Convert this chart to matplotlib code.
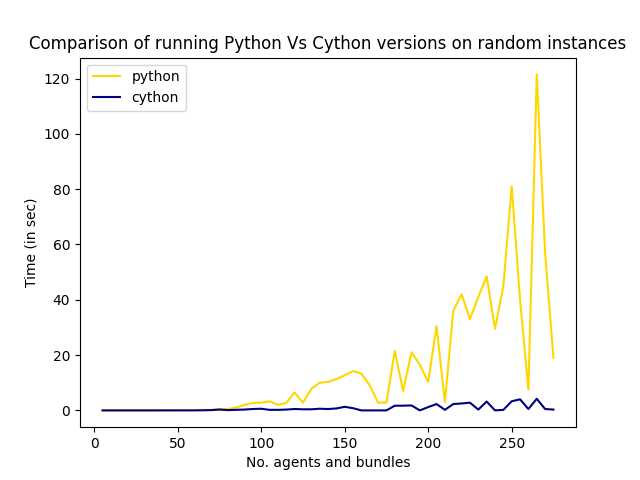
import matplotlib
matplotlib.use('Agg')
import matplotlib.pyplot as plt

agents = list(range(5, 280, 5))
python = [0.02, 0.02, 0.03, 0.03, 0.04, 0.05, 0.06, 0.07, 0.08, 0.1, 0.12, 0.15, 0.2, 0.2,
          0.5, 0.5, 1.0, 2.0, 2.7, 2.8, 3.3, 2.0, 2.7, 6.5, 2.8, 7.8, 10.0, 10.3, 11.3, 12.7,
          14.2, 13.3, 9.0, 2.8, 2.8, 21.5, 7.0, 21.0, 16.5, 10.3, 30.5, 3.0, 36.0, 42.0,
          33.0, 41.0, 48.5, 29.5, 45.0, 81.0, 40.0, 7.5, 121.5, 57.0, 19.0]
cython = [0.0, 0.0, 0.0, 0.0, 0.0, 0.0, 0.0, 0.0, 0.0, 0.0, 0.0, 0.0, 0.05, 0.1,
          0.3, 0.1, 0.2, 0.3, 0.5, 0.6, 0.2, 0.2, 0.3, 0.5, 0.4, 0.4, 0.6, 0.5, 0.7, 1.3,
          0.8, 0.0, 0.0, 0.0, 0.0, 1.7, 1.7, 1.8, 0.0, 1.2, 2.3, 0.2, 2.3, 2.5,
          2.8, 0.3, 3.2, 0.0, 0.2, 3.3, 4.0, 0.5, 4.2, 0.5, 0.3]

plt.figure(figsize=(6.4, 4.8), dpi=100)
plt.plot(agents, python, color='gold', label='python')
plt.plot(agents, cython, color='navy', label='cython')
plt.xlabel('No. agents and bundles')
plt.ylabel('Time (in sec)')
plt.title('Comparison of running Python Vs Cython versions on random instances')
plt.legend()
plt.savefig('out.png')
